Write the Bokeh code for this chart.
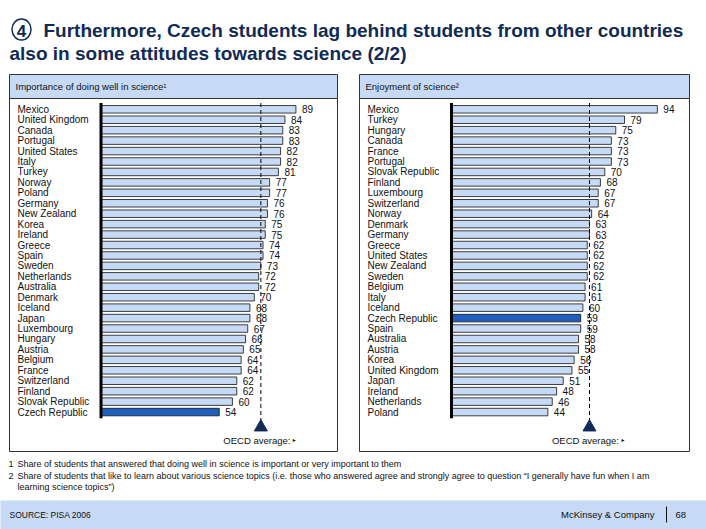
from bokeh.plotting import figure
from bokeh.models import Range1d
from bokeh.core.properties import value
from bokeh.embed import file_html
from bokeh.resources import INLINE

# ---------------- data ----------------
title_number = "4"
title_line1 = "Furthermore, Czech students lag behind students from other countries"
title_line2 = "also in some attitudes towards science (2/2)"

left_title = "Importance of doing well in science¹"
left_countries = ["Mexico", "United Kingdom", "Canada", "Portugal", "United States", "Italy",
                  "Turkey", "Norway", "Poland", "Germany", "New Zealand", "Korea", "Ireland",
                  "Greece", "Spain", "Sweden", "Netherlands", "Australia", "Denmark", "Iceland",
                  "Japan", "Luxembourg", "Hungary", "Austria", "Belgium", "France", "Switzerland",
                  "Finland", "Slovak Republic", "Czech Republic"]
left_values = [89, 84, 83, 83, 82, 82, 81, 77, 77, 76, 76, 75, 75, 74, 74, 73, 72, 72, 70, 68,
               68, 67, 66, 65, 64, 64, 62, 62, 60, 54]
left_oecd = 73

right_title = "Enjoyment of science²"
right_countries = ["Mexico", "Turkey", "Hungary", "Canada", "France", "Portugal", "Slovak Republic",
                   "Finland", "Luxembourg", "Switzerland", "Norway", "Denmark", "Germany", "Greece",
                   "United States", "New Zealand", "Sweden", "Belgium", "Italy", "Iceland",
                   "Czech Republic", "Spain", "Australia", "Austria", "Korea", "United Kingdom",
                   "Japan", "Ireland", "Netherlands", "Poland"]
right_values = [94, 79, 75, 73, 73, 73, 70, 68, 67, 67, 64, 63, 63, 62, 62, 62, 62, 61, 61, 60,
                59, 59, 58, 58, 56, 55, 51, 48, 46, 44]
right_oecd = 63

highlight = "Czech Republic"
oecd_label = "OECD average:"
footnotes = [
    ("1", "Share of students that answered that doing well in science is important or very important to them"),
    ("2", "Share of students that like to learn about various science topics (i.e. those who answered agree and strongly agree to question \u201cI generally have fun when I am"),
    ("", "learning science topics\u201d)"),
]
source_text = "SOURCE: PISA 2006"
brand_text = "McKinsey & Company"
page_text = "68"

# ---------------- style ----------------
FONT = value("Liberation Sans")
NAVY = "#112b57"
LIGHT = "#c6daf5"
DARK_BAR = "#1f5fbf"
BORDER = "#333333"

W, H = 706, 529
SCALE = 2.19      # px per percentage point
ROW = 10.44       # px per row
ROW0 = 108.8      # px of first row centre

p = figure(width=W, height=H, x_range=Range1d(0, W), y_range=Range1d(H, 0),
           output_backend="svg", toolbar_location=None, min_border=0,
           x_axis_location=None, y_axis_location=None, outline_line_color=None,
           background_fill_color="white", border_fill_color="white")
p.grid.visible = False

LX0, RX0 = 100.5, 451.0
p.extra_x_ranges = {
    "lx": Range1d(-LX0 / SCALE, (W - LX0) / SCALE),
    "rx": Range1d(-RX0 / SCALE, (W - RX0) / SCALE),
}
p.extra_y_ranges = {"rows": Range1d((H - ROW0) / ROW, -ROW0 / ROW)}

# ---------------- title ----------------
p.ellipse(x=[21], y=[29], width=19, height=21, fill_color=None, line_color=NAVY, line_width=1.5)
p.text(x=[21], y=[30], text=[title_number], text_font=FONT, text_font_size="17px",
       text_font_style="bold", text_color=NAVY, text_align="center", text_baseline="middle")
p.text(x=[43], y=[30], text=[title_line1], text_font=FONT, text_font_size="19px",
       text_font_style="bold", text_color=NAVY, text_baseline="middle")
p.text(x=[9], y=[53], text=[title_line2], text_font=FONT, text_font_size="19px",
       text_font_style="bold", text_color=NAVY, text_baseline="middle")


def panel(names, vals, oecd, xr, px_left, px_right, title):
    # frame
    p.quad(left=[px_left], right=[px_right], top=[74], bottom=[98], fill_color=LIGHT,
           line_color=BORDER, line_width=1)
    p.quad(left=[px_left], right=[px_right], top=[98], bottom=[451], fill_color="white",
           line_color=BORDER, line_width=1)
    p.text(x=[px_left + 6], y=[86], text=[title], text_font=FONT, text_font_size="9.5px",
           text_color="#111111", text_baseline="middle")
    idx = list(range(len(names)))
    colors = [DARK_BAR if n == highlight else LIGHT for n in names]
    # country labels
    p.text(x=[px_left + 8] * len(names), y=idx, text=names, y_range_name="rows",
           text_font=FONT, text_font_size="10px", text_color="#111111", text_baseline="middle")
    # bars
    p.hbar(y=idx, left=0, right=vals, height=0.72, fill_color=colors, line_color="#111111",
           line_width=0.8, x_range_name=xr, y_range_name="rows")
    # value labels
    p.text(x=vals, y=idx, text=[str(v) for v in vals], x_offset=6, text_font=FONT,
           text_font_size="10px", text_color="#111111", text_baseline="middle",
           x_range_name=xr, y_range_name="rows")
    # axis line
    p.segment(x0=[0], x1=[0], y0=[-0.6], y1=[len(names) - 0.4], line_color="black",
              line_width=3, x_range_name=xr, y_range_name="rows")
    # oecd average
    p.segment(x0=[oecd], x1=[oecd], y0=[-0.6], y1=[30.0], line_color="black",
              line_width=1, line_dash="4 3", x_range_name=xr, y_range_name="rows")
    p.scatter(x=[oecd], y=[30.45], marker="triangle", size=13, fill_color=NAVY,
              line_color=NAVY, x_range_name=xr, y_range_name="rows")
    p.text(x=[oecd], y=[440], text=[oecd_label], x_offset=-4, text_font=FONT,
           text_font_size="9.5px", text_color="#111111", text_align="center",
           text_baseline="middle", x_range_name=xr)
    p.text(x=[oecd], y=[439], text=["\u25b8"], x_offset=32, text_font=value("DejaVu Sans"),
           text_font_size="6px", text_color="#111111", text_baseline="middle",
           x_range_name=xr)


panel(left_countries, left_values, left_oecd, "lx", 9, 337, left_title)
panel(right_countries, right_values, right_oecd, "rx", 359, 689, right_title)

# ---------------- footnotes ----------------
fy = [463, 475, 486]
for (num, txt), y in zip(footnotes, fy):
    if num:
        p.text(x=[8], y=[y], text=[num], text_font=FONT, text_font_size="9px",
               text_color="#111111", text_baseline="middle")
    p.text(x=[17], y=[y], text=[txt], text_font=FONT, text_font_size="9px",
           text_color="#111111", text_baseline="middle")

# ---------------- footer ----------------
p.quad(left=[-2], right=[W + 2], top=[500], bottom=[H + 2], fill_color=LIGHT, line_color=None)
p.text(x=[9], y=[514], text=[source_text], text_font=FONT, text_font_size="8.5px",
       text_color="#111111", text_baseline="middle")
p.text(x=[654], y=[514], text=[brand_text], text_font=FONT, text_font_size="9.5px",
       text_color="#111111", text_baseline="middle", text_align="right")
p.segment(x0=[666], x1=[666], y0=[506], y1=[522], line_color="#111111", line_width=1)
p.text(x=[675], y=[514], text=[page_text], text_font=FONT, text_font_size="9.5px",
       text_color="#111111", text_baseline="middle")

open("out.html", "w").write(file_html(p, INLINE))
